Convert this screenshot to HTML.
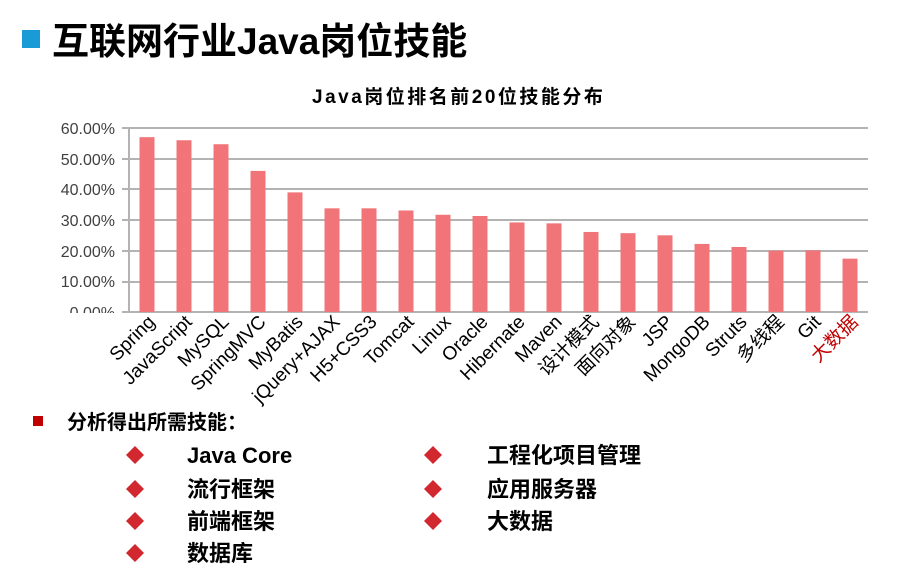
<!DOCTYPE html>
<html><head><meta charset="utf-8"><style>
body{margin:0;width:897px;height:574px;background:#fff;overflow:hidden;font-family:"Liberation Sans","Noto Sans CJK SC",sans-serif;}
</style></head><body>
<svg width="897" height="574" xmlns="http://www.w3.org/2000/svg" font-family="Liberation Sans, Noto Sans CJK SC, sans-serif">
<defs><clipPath id="c"><rect x="0" y="0" width="897" height="313"/></clipPath></defs>
<rect x="22" y="30" width="18" height="18" fill="#1a9ad6"/>
<text x="52" y="54" font-size="37" font-weight="bold" fill="#000">互联网行业Java岗位技能</text>
<text x="312" y="103" font-size="19" font-weight="bold" letter-spacing="2.5" fill="#000">Java岗位排名前20位技能分布</text>
<g stroke="#b3b3b3" stroke-width="2">
<line x1="122" y1="128" x2="868" y2="128"/><line x1="122" y1="159" x2="868" y2="159"/>
<line x1="122" y1="189" x2="868" y2="189"/><line x1="122" y1="220" x2="868" y2="220"/>
<line x1="122" y1="251" x2="868" y2="251"/><line x1="122" y1="282" x2="868" y2="282"/>
<line x1="122" y1="312" x2="868" y2="312"/><line x1="129" y1="128" x2="129" y2="312"/>
</g>
<g font-size="16" fill="#404040" text-anchor="end" clip-path="url(#c)">
<text x="115" y="134">60.00%</text><text x="115" y="165">50.00%</text><text x="115" y="195">40.00%</text>
<text x="115" y="226">30.00%</text><text x="115" y="257">20.00%</text><text x="115" y="287">10.00%</text>
<text x="115" y="318">0.00%</text>
</g>
<g id="bars" fill="#f07478"></g>
<g id="labels" font-size="19" fill="#000"></g>
<rect x="33" y="416" width="10" height="10" fill="#c00000"/>
<text x="67" y="429" font-size="20" font-weight="bold">分析得出所需技能：</text>
<g fill="#d0282e">
<path d="M135 446 l9 9 l-9 9 l-9 -9z"/><path d="M135 480 l9 9 l-9 9 l-9 -9z"/>
<path d="M135 512 l9 9 l-9 9 l-9 -9z"/><path d="M135 544 l9 9 l-9 9 l-9 -9z"/>
<path d="M433 446 l9 9 l-9 9 l-9 -9z"/><path d="M433 480 l9 9 l-9 9 l-9 -9z"/>
<path d="M433 512 l9 9 l-9 9 l-9 -9z"/>
</g>
<g font-size="22" font-weight="bold" fill="#000">
<text x="187" y="463">Java Core</text><text x="187" y="497">流行框架</text>
<text x="187" y="529">前端框架</text><text x="187" y="561">数据库</text>
<text x="487" y="463">工程化项目管理</text><text x="487" y="497">应用服务器</text>
<text x="487" y="529">大数据</text>
</g>
</svg>
<script>
var d=[["Spring",57],["JavaScript",56],["MySQL",54.7],["SpringMVC",46],["MyBatis",39],["jQuery+AJAX",33.8],["H5+CSS3",33.8],["Tomcat",33.1],["Linux",31.7],["Oracle",31.3],["Hibernate",29.2],["Maven",28.9],["设计模式",26.1],["面向对象",25.7],["JSP",25],["MongoDB",22.2],["Struts",21.2],["多线程",20],["Git",20.1],["大数据",17.4]];
var ns="http://www.w3.org/2000/svg",b=document.getElementById("bars"),l=document.getElementById("labels");
d.forEach(function(e,i){var cx=147+i*37,h=e[1]*3.067;
var r=document.createElementNS(ns,"rect");r.setAttribute("x",cx-7.5);r.setAttribute("y",312-h);r.setAttribute("width",15);r.setAttribute("height",h);b.appendChild(r);
var t=document.createElementNS(ns,"text");t.setAttribute("text-anchor","end");t.setAttribute("transform","translate("+(cx+9)+",323) rotate(-45)");t.textContent=e[0];if(i==19)t.setAttribute("fill","#c00000");l.appendChild(t);});
</script>
</body></html>
